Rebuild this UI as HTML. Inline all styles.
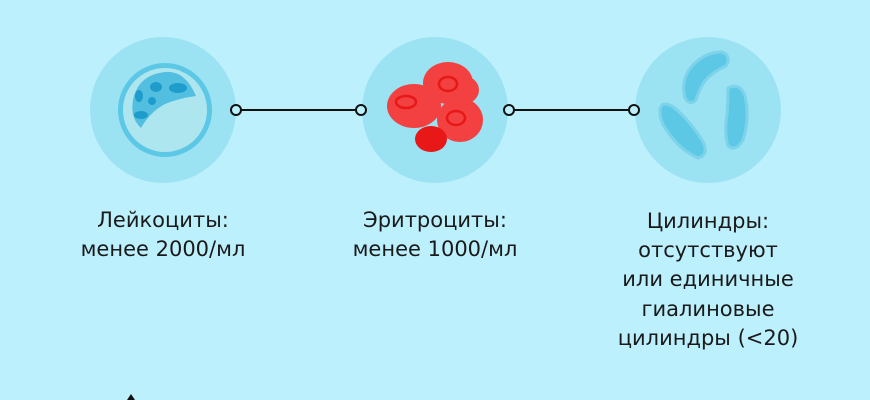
<!DOCTYPE html>
<html><head><meta charset="utf-8"><style>
html,body{margin:0;padding:0;background:#bdf0fd;}
svg{display:block}
text{font-family:"DejaVu Sans","Liberation Sans",sans-serif;font-size:21px;fill:#1a1a1a;text-anchor:middle}
</style></head><body>
<svg width="870" height="400" viewBox="0 0 870 400">
<rect width="870" height="400" fill="#bdf0fd"/>
<circle cx="163" cy="110" r="73" fill="#9be2f2"/>
<circle cx="435" cy="110" r="73" fill="#9be2f2"/>
<circle cx="708" cy="110" r="73" fill="#9be2f2"/>
<!-- leukocyte -->
<circle cx="165" cy="110" r="47" fill="#5cc8e6"/>
<circle cx="165" cy="110" r="42" fill="#aee6f0"/>
<path d="M133 100 Q138 75 165 72 Q185 70 196 96 Q180 98 165 104 Q150 112 141 128 Q130 118 133 100Z" fill="#52bfe0"/>
<ellipse cx="156" cy="87" rx="6" ry="5" fill="#1e9ccc"/>
<ellipse cx="178" cy="88" rx="9" ry="5" fill="#1e9ccc"/>
<ellipse cx="139" cy="96" rx="4" ry="6" fill="#1e9ccc"/>
<ellipse cx="152" cy="101" rx="4" ry="4" fill="#1e9ccc"/>
<ellipse cx="141" cy="115" rx="7" ry="4" fill="#1e9ccc"/>
<!-- RBCs -->
<g fill="#f34040">
<ellipse cx="414" cy="106" rx="27" ry="22"/>
<ellipse cx="448" cy="83" rx="25" ry="21"/>
<ellipse cx="461" cy="90" rx="18" ry="15"/>
<ellipse cx="460" cy="120" rx="23" ry="22"/>
</g>
<ellipse cx="431" cy="139" rx="16" ry="13" fill="#e81818"/>
<g fill="none" stroke="#e81818" stroke-width="2.5">
<ellipse cx="406" cy="102" rx="10" ry="6"/>
<ellipse cx="448" cy="84" rx="9" ry="7"/>
<ellipse cx="456" cy="118" rx="9" ry="7"/>
</g>
<!-- casts -->
<g stroke="#7dd3ea" stroke-width="3" fill="#5cc8e6" stroke-linecap="round">
<path d="M685 98 Q680 80 692 66 Q705 52 722 52 Q732 56 726 66 Q712 72 704 82 Q698 92 696 100 Q690 106 685 98Z"/>
<path d="M660 112 Q660 100 672 106 Q688 118 702 140 Q710 155 698 158 Q680 150 668 132 Q660 122 660 112Z"/>
<path d="M728 88 Q740 82 745 96 Q750 118 743 140 Q736 152 728 146 Q724 132 727 115 Q728 100 728 88Z"/>
</g>
<!-- connectors -->
<g stroke="#111" stroke-width="2" fill="#bdf0fd">
<line x1="241" y1="110" x2="356" y2="110"/>
<line x1="514" y1="110" x2="629" y2="110"/>
<circle cx="236" cy="110" r="5"/><circle cx="361" cy="110" r="5"/>
<circle cx="509" cy="110" r="5"/><circle cx="634" cy="110" r="5"/>
</g>
<text x="163" y="227">Лейкоциты:</text>
<text x="163" y="256">менее 2000/мл</text>
<text x="435" y="227">Эритроциты:</text>
<text x="435" y="256">менее 1000/мл</text>
<text x="708" y="228">Цилиндры:</text>
<text x="708" y="257">отсутствуют</text>
<text x="708" y="286">или единичные</text>
<text x="708" y="316">гиалиновые</text>
<text x="708" y="345">цилиндры (&lt;20)</text>
<path d="M127 400 L131 394 L135 400Z" fill="#111"/>
</svg>
</body></html>
